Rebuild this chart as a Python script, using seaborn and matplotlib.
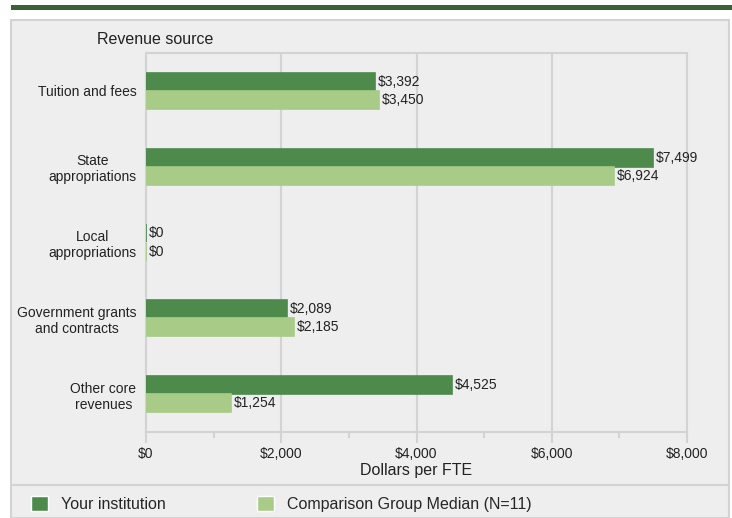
import matplotlib
matplotlib.use('Agg')
import matplotlib.pyplot as plt
from matplotlib.patches import Rectangle
from matplotlib.lines import Line2D
import seaborn as sns
import pandas as pd

# data
categories = ['Tuition and fees', 'State\nappropriations', 'Local\nappropriations',
              'Government grants\nand contracts', 'Other core\nrevenues']
your_institution = [3392, 7499, 0, 2089, 4525]
comparison_median = [3450, 6924, 0, 2185, 1254]
series_names = ['Your institution', 'Comparison Group Median (N=11)']
x_ticks = [0, 2000, 4000, 6000, 8000]

dark_green = '#4d8a4c'
light_green = '#a9cb88'
band_green = '#3b6237'
panel_bg = '#eeeeee'
line_gray = '#d3d3d3'

df = pd.DataFrame({
    'category': categories * 2,
    'value': your_institution + comparison_median,
    'series': [series_names[0]] * 5 + [series_names[1]] * 5,
})

sns.set_theme(style='white')
plt.rcParams['font.family'] = ['Liberation Sans', 'DejaVu Sans']

W, H = 732, 518
fig = plt.figure(figsize=(W / 100, H / 100), dpi=100)
fig.patch.set_facecolor('white')

# background panel, top band and legend divider
fig.add_artist(Rectangle((11 / W, 0), 718 / W, (H - 20) / H, transform=fig.transFigure,
                         facecolor=panel_bg, edgecolor=line_gray, linewidth=1.5, zorder=0))
fig.add_artist(Rectangle((11 / W, (H - 10) / H), (W - 11) / W, 5 / H, transform=fig.transFigure,
                         facecolor=band_green, edgecolor='none', zorder=0))
fig.add_artist(Line2D([11 / W, 729 / W], [(H - 485) / H] * 2, transform=fig.transFigure,
                      color=line_gray, linewidth=1.5, zorder=1))

ax = fig.add_axes([146 / W, (H - 432) / H, (687 - 146) / W, (432 - 53) / H])
ax.set_facecolor(panel_bg)

sns.barplot(data=df, x='value', y='category', hue='series', orient='h',
            palette=[dark_green, light_green], width=0.475, ax=ax,
            errorbar=None, saturation=1)

# thin outline in the bar colour so zero values still show as a sliver
for cont in ax.containers:
    for bar in cont:
        bar.set_edgecolor(bar.get_facecolor())
        bar.set_linewidth(1.2)
        bar.set_zorder(3)
    ax.bar_label(cont, labels=[f'${v:,.0f}' for v in cont.datavalues],
                 padding=2, fontsize=10, color='#222222')

ax.set_xlim(0, 8000)
ax.set_ylim(4.5, -0.5)
ax.set_xticks(x_ticks)
ax.set_xticklabels([f'${v:,}' for v in x_ticks], fontsize=10, color='#222222')
ax.set_xticks([1000, 3000, 5000, 7000], minor=True)
ax.tick_params(axis='x', which='major', length=8, width=1.5, color=line_gray, pad=3, bottom=True)
ax.tick_params(axis='x', which='minor', length=4, width=1.5, color=line_gray, bottom=True)
ax.tick_params(axis='y', length=0, labelsize=10, labelcolor='#222222', pad=7)
ax.set_xlabel('Dollars per FTE', fontsize=11.5, color='#222222', labelpad=1)
ax.set_ylabel('')
for lab in ax.get_yticklabels():
    lab.set_horizontalalignment('right')
    lab.set_multialignment('center')

for x in [2000, 4000, 6000]:
    ax.axvline(x, color=line_gray, linewidth=1.5, zorder=0)
for sp in ax.spines.values():
    sp.set_color(line_gray)
    sp.set_linewidth(1.5)

fig.text(97 / W, (H - 40) / H, 'Revenue source', fontsize=11.5, color='#222222', va='center')

sns.move_legend(ax, loc='center left', bbox_to_anchor=(31 / W, (H - 504) / H),
                bbox_transform=fig.transFigure, ncol=2, frameon=False, title=None,
                fontsize=11.5, borderaxespad=0, borderpad=0, handlelength=1.05,
                handleheight=1.1, handletextpad=0.8, columnspacing=5.75)

fig.savefig('out.png', dpi=100, facecolor=fig.get_facecolor())
